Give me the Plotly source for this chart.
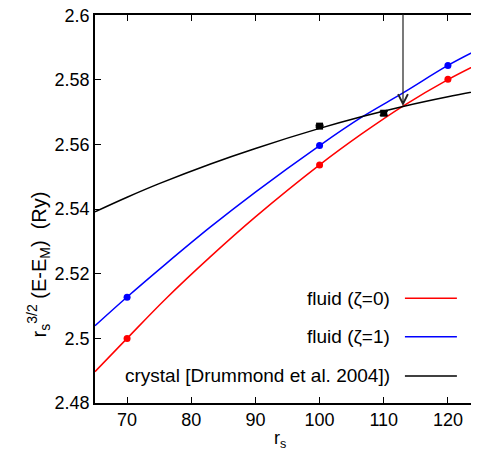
import plotly.graph_objects as go

# ---- data ----
# fitted curves (rs, r_s^{3/2}(E-E_M))
red_curve_x = [65, 70, 76, 83, 90, 100, 106.5, 113, 120, 125]
red_curve_y = [2.4897, 2.5000, 2.5122, 2.5253, 2.5376, 2.5537, 2.5632, 2.5719, 2.5801, 2.5852]
blue_curve_x = [65, 70, 76, 83, 90, 100, 106.5, 113, 120, 125]
blue_curve_y = [2.5039, 2.5128, 2.5230, 2.5345, 2.5453, 2.5597, 2.5684, 2.5760, 2.5845, 2.5897]
black_curve_x = [65, 70, 75, 83, 90, 100, 106.5, 113, 120, 125]
black_curve_y = [2.5392, 2.5437, 2.5479, 2.5540, 2.5588, 2.5650, 2.5686, 2.5718, 2.5748, 2.5767]

# data points
red_pts_x = [70, 100, 120]
red_pts_y = [2.5000, 2.5537, 2.5802]
blue_pts_x = [70, 100, 120]
blue_pts_y = [2.5127, 2.5597, 2.5845]
black_pts_x = [100, 110, 125]
black_pts_y = [2.5657, 2.5697, 2.5764]
black_pts_err = [0.0003, 0.0006, 0.0006]

# arrow marking the crossing
arrow_x = 113.0
arrow_tip_y = 2.5719
arrow_top_y = 2.6008

x_ticks = [70, 80, 90, 100, 110, 120]
y_ticks = [2.48, 2.50, 2.52, 2.54, 2.56, 2.58, 2.60]
y_tick_text = ["2.48", "2.5", "2.52", "2.54", "2.56", "2.58", "2.6"]

legend_labels = ["fluid (\u03b6=0)", "fluid (\u03b6=1)", "crystal [Drummond et al. 2004])"]
legend_colors = ["#ff0000", "#0000ff", "#000000"]

FONT = "Liberation Sans, Arial, Helvetica, sans-serif"

fig = go.Figure()
fig.add_trace(go.Scatter(x=red_curve_x, y=red_curve_y, mode="lines", line=dict(color=legend_colors[0], width=1.5, shape="spline"), showlegend=False))
fig.add_trace(go.Scatter(x=blue_curve_x, y=blue_curve_y, mode="lines", line=dict(color=legend_colors[1], width=1.5, shape="spline"), showlegend=False))
fig.add_trace(go.Scatter(x=black_curve_x, y=black_curve_y, mode="lines", line=dict(color=legend_colors[2], width=1.5, shape="spline"), showlegend=False))
fig.add_trace(go.Scatter(x=red_pts_x, y=red_pts_y, mode="markers", marker=dict(color=legend_colors[0], size=7, symbol="circle"), showlegend=False, cliponaxis=False))
fig.add_trace(go.Scatter(x=blue_pts_x, y=blue_pts_y, mode="markers", marker=dict(color=legend_colors[1], size=7, symbol="circle"), showlegend=False, cliponaxis=False))
fig.add_trace(go.Scatter(x=black_pts_x, y=black_pts_y, mode="markers",
                         marker=dict(color="black", size=7, symbol="square"),
                         error_y=dict(type="data", array=black_pts_err, color="black", thickness=1.5, width=4),
                         showlegend=False, cliponaxis=False))

fig.add_annotation(x=arrow_x, y=arrow_tip_y, ax=arrow_x, ay=arrow_top_y, xref="x", yref="y", axref="x", ayref="y",
                   text="", showarrow=True, arrowhead=5, arrowsize=1.6, arrowwidth=1.2, arrowcolor="#222222")

# legend (gnuplot style: right-aligned text, sample line to the right)
leg_rows = [0.270, 0.171, 0.0696]
for lab, col, yy in zip(legend_labels, legend_colors, leg_rows):
    fig.add_annotation(x=0.771, y=yy, xref="paper", yref="paper", text=lab, showarrow=False,
                       xanchor="right", yanchor="middle", font=dict(family=FONT, size=19, color="black"))
    fig.add_shape(type="line", xref="paper", yref="paper", x0=0.805, x1=0.940, y0=yy, y1=yy,
                  line=dict(color=col, width=1.5))

# axis titles
fig.add_annotation(x=-0.19, y=0.358, xref="paper", yref="paper", textangle=-90, showarrow=False,
                   text="r<sub>s</sub><sup>3/2</sup> (E-E<sub>M</sub>)&nbsp;&nbsp;(Ry)",
                   font=dict(family=FONT, size=20, color="black"))
fig.add_annotation(x=0.48, y=-0.059, xref="paper", yref="paper", showarrow=False, yanchor="top",
                   text="r<sub>s</sub>", font=dict(family=FONT, size=18, color="black"))

axis_common = dict(showline=True, linecolor="black", linewidth=1.5, mirror="ticks", ticks="inside",
                   ticklen=6, tickwidth=1, tickcolor="black", showgrid=False, zeroline=False,
                   ticklabeloverflow="allow", automargin=False,
                   tickfont=dict(family=FONT, size=18, color="black"))
fig.update_xaxes(range=[65, 125], tickvals=x_ticks, **axis_common)
fig.update_yaxes(range=[2.48, 2.6001], tickvals=y_ticks, ticktext=y_tick_text, **axis_common)

fig.update_layout(width=479, height=442, margin=dict(l=87, r=7, t=7, b=47),
                  paper_bgcolor="white", plot_bgcolor="white", showlegend=False,
                  font=dict(family=FONT, size=18, color="black"))

fig.write_html("out.html")
